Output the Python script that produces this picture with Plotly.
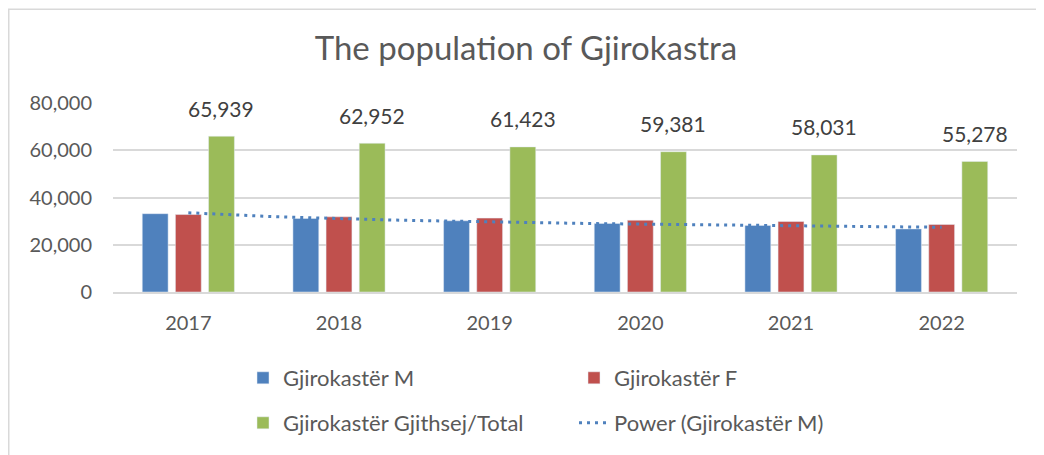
import numpy as np
import plotly.graph_objects as go

years = ["2017", "2018", "2019", "2020", "2021", "2022"]
male = [33150, 31150, 30150, 29000, 28200, 26700]
female = [32789, 31802, 31273, 30381, 29831, 28578]
total = [65939, 62952, 61423, 59381, 58031, 55278]
y_ticks = [0, 20000, 40000, 60000, 80000]

FONT = "Lato, 'Open Sans', sans-serif"
# page has an 8px body margin, so the figure is drawn 8px in from the top-left
W, H = 1036, 447
L, R, T, B = 105, 27, 95, 162
pw, ph = W - L - R, H - T - B

BARGAP, GROUPGAP = 0.34, 0.22
xpos = list(range(len(years)))

# Excel-style power trendline on male series: y = a * x^b, x = 1..n
xi = np.arange(1, len(male) + 1)
b, lna = np.polyfit(np.log(xi), np.log(male), 1)
xf = np.linspace(1, len(male), 60)
yf = np.exp(lna) * xf ** b

fig = go.Figure()
fig.add_trace(go.Bar(x=xpos, y=male, name="Gjirokastër M", marker_color="#4F81BD",
                     legend="legend"))
fig.add_trace(go.Bar(x=xpos, y=female, name="Gjirokastër F", marker_color="#C0504D",
                     legend="legend"))
fig.add_trace(go.Bar(x=xpos, y=total, name="Gjirokastër Gjithsej/Total", marker_color="#9BBB59",
                     legend="legend2"))
fig.add_trace(go.Scatter(x=xf - 1, y=yf, mode="lines", name="Power (Gjirokastër M)",
                         line=dict(color="#4F81BD", width=3, dash="3px,5px"),
                         legend="legend2"))

# data labels above the total bars (third bar of each group)
slot = (1 - BARGAP) / 3
for i, v in zip(xpos, total):
    fig.add_annotation(x=i + slot, y=v, text=f"{v:,}", showarrow=False,
                       yanchor="middle", yshift=28,
                       font=dict(size=21, color="#404040", family=FONT))

legend_common = dict(orientation="h", xanchor="left", yanchor="middle", entrywidth=286,
                     font=dict(size=22, color="#595959", family=FONT),
                     bgcolor="rgba(0,0,0,0)", traceorder="normal")

fig.update_layout(
    width=W, height=H,
    margin=dict(l=L, r=R, t=T, b=B),
    paper_bgcolor="white", plot_bgcolor="white",
    font=dict(family=FONT, color="#595959", size=20),
    title=dict(text="The population of Gjirokastra", x=0.5, xanchor="center",
               y=1 - 40 / H, yanchor="middle",
               font=dict(size=33, color="#595959", family=FONT)),
    barmode="group", bargap=BARGAP, bargroupgap=GROUPGAP,
    showlegend=True,
    legend=dict(x=(235 - L) / pw, y=(ph - (370 - T)) / ph, **legend_common),
    legend2=dict(x=(235 - L) / pw, y=(ph - (415 - T)) / ph, **legend_common),
    xaxis=dict(tickmode="array", tickvals=xpos, ticktext=years, range=[-0.5, 5.5],
               showgrid=False, zeroline=False, showline=True, linecolor="#d9d9d9",
               linewidth=1.5, ticks="", tickfont=dict(size=20, color="#595959"),
               ticklabelstandoff=12),
    yaxis=dict(range=[0, 80000], tickvals=y_ticks, tickformat=",d",
               showgrid=True, gridcolor="#d9d9d9", gridwidth=1.5,
               zeroline=False, showline=False, ticks="",
               tickfont=dict(size=20, color="#595959"), ticklabelstandoff=20),
    shapes=[dict(type="rect", xref="paper", yref="paper",
                 x0=(0.75 - L) / pw, x1=(W + 20 - L) / pw,
                 y0=-(H + 20 - T - ph) / ph, y1=(ph + T - 0.75) / ph,
                 line=dict(color="#d9d9d9", width=1.5), fillcolor="rgba(0,0,0,0)",
                 layer="below")],
)

fig.write_html("out.html")
